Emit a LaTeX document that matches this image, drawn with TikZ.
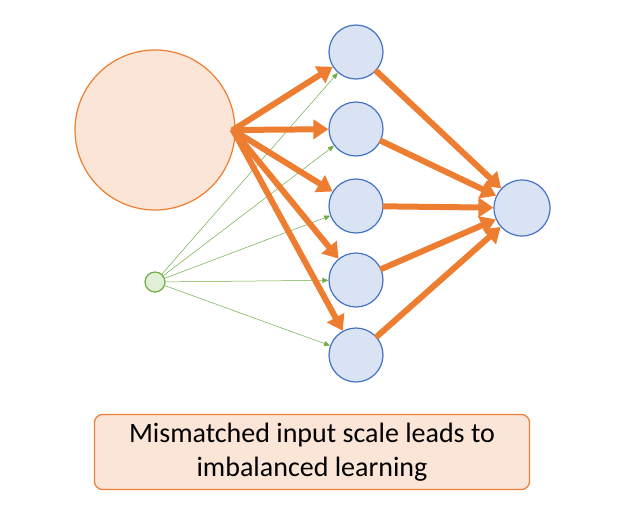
\documentclass[tikz,border=0pt]{standalone}
\usepackage{fontspec}
\setmainfont{Carlito}
\usetikzlibrary{arrows.meta}
\definecolor{org}{HTML}{ED7D31}
\definecolor{peach}{HTML}{FBE5D6}
\definecolor{bl}{HTML}{4472C4}
\definecolor{blf}{HTML}{DAE3F3}
\definecolor{gr}{HTML}{70AD47}
\definecolor{grf}{HTML}{E2F0D9}
\begin{document}
\begin{tikzpicture}[x=1pt,y=-1pt,
  hid/.style={circle,draw=bl,fill=blf,line width=1.2pt,minimum size=54pt,inner sep=0},
  big/.style={-{Triangle[length=15pt,width=19pt]},org,line width=6pt,shorten <=-1pt},
  thin/.style={-{Triangle[length=6pt,width=5pt]},gr,line width=0.5pt}]
\useasboundingbox (0,0) rectangle (625,520);
\node[circle,draw=org,fill=peach,line width=1.2pt,minimum size=160pt,inner sep=0] (A) at (155,130) {};
\node[circle,draw=gr,fill=grf,line width=1.2pt,minimum size=20pt,inner sep=0] (B) at (155,282) {};
\coordinate (S) at (233,130);
\foreach \i/\y in {1/52,2/129,3/206,4/280,5/355}{
  \node[hid] (h\i) at (356,\y) {};
}
\node[hid,minimum size=56pt] (o) at (522,208) {};
\foreach \i in {1,...,5}{
  \draw[thin] (B) -- (h\i);
}
\foreach \i in {1,...,5}{
  \draw[big] (S) -- (h\i);
  \draw[big] (h\i) -- (o);
}
\node[draw=org,fill=peach,rounded corners=8pt,line width=1.2pt,minimum width=435pt,minimum height=75pt,align=center,font=\fontsize{28}{34}\selectfont] (T) at (312,452) {Mismatched input scale leads to\\imbalanced learning};
\end{tikzpicture}
\end{document}
